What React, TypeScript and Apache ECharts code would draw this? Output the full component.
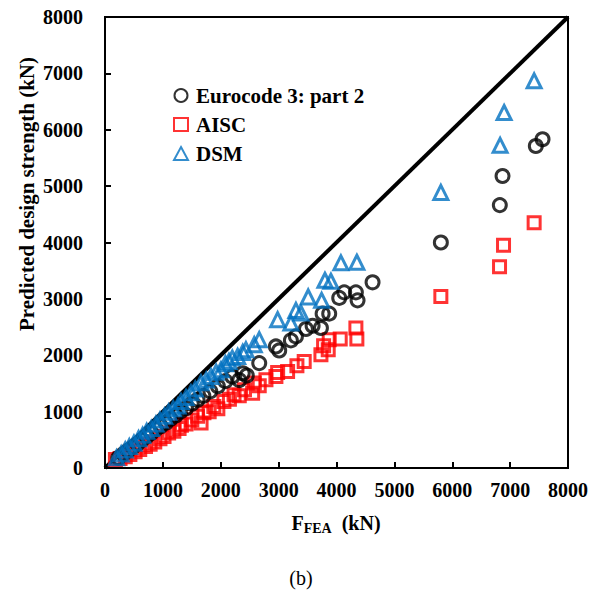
import React, { useEffect, useRef } from "react";
import * as echarts from "echarts";

// Predicted design strength vs. FEA strength (kN), pairs of [F_FEA, predicted]
const eurocode: number[][] = [
  [230, 180], [320, 250], [400, 310], [480, 370], [560, 430], [640, 500], [720, 560],
  [800, 620], [880, 690], [960, 740], [1050, 800], [1130, 870], [1220, 930], [1300, 1000],
  [1400, 1060], [1500, 1140], [1600, 1210], [1700, 1280], [1820, 1360], [1950, 1450],
  [2080, 1540], [2200, 1620], [2320, 1560], [2380, 1680], [2450, 1640], [2665, 1861],
  [2953, 2156], [3010, 2085], [3212, 2263], [3299, 2334], [3472, 2466], [3587, 2524],
  [3731, 2484], [3760, 2738], [3874, 2738], [4047, 3017], [4133, 3116], [4335, 3116],
  [4364, 2974], [4623, 3294], [5803, 4000], [6822, 4663], [6869, 5179], [7444, 5712],
  [7560, 5831],
];

const aisc: number[][] = [
  [180, 150], [260, 170], [350, 200], [430, 240], [520, 290], [600, 330], [700, 380],
  [780, 420], [860, 460], [950, 520], [1020, 560], [1100, 620], [1190, 650], [1280, 700],
  [1320, 760], [1400, 780], [1500, 850], [1600, 920], [1660, 800], [1710, 980], [1800, 1000],
  [1880, 1090], [1950, 1050], [2055, 1180], [2150, 1220], [2230, 1300], [2320, 1280],
  [2410, 1390], [2551, 1328], [2580, 1506], [2665, 1458], [2781, 1564], [2953, 1623],
  [2983, 1694], [3155, 1712], [3316, 1813], [3442, 1890], [3731, 2009], [3777, 2169],
  [3857, 2098], [3874, 2276], [4064, 2288], [4335, 2484], [4352, 2288], [5803, 3040],
  [6817, 3568], [6886, 3952], [7415, 4350],
];

const dsm: number[][] = [
  [200, 180], [280, 250], [350, 320], [420, 380], [500, 440], [580, 520], [650, 580],
  [720, 650], [800, 700], [880, 780], [950, 850], [1030, 920], [1100, 990], [1180, 1050],
  [1260, 1100], [1313, 1179], [1400, 1250], [1485, 1333], [1560, 1400], [1658, 1511],
  [1750, 1560], [1831, 1623], [1920, 1700], [2003, 1742], [2080, 1850], [2142, 1890],
  [2200, 1950], [2292, 1979], [2380, 2050], [2435, 2098], [2579, 2187], [2665, 2276],
  [2983, 2631], [3212, 2572], [3299, 2796], [3385, 2750], [3511, 3034], [3743, 2974],
  [3800, 3330], [3903, 3312], [4076, 3639], [4352, 3650], [5803, 4889], [6827, 5724],
  [6896, 6306], [7415, 6868],
];

// 1:1 reference line
const equality: number[][] = [[0, 0], [8000, 8000]];

const axisMin = 0;
const axisMax = 8000;
const axisStep = 1000;

const FONT = "'Liberation Serif', 'Times New Roman', serif";

export default function App() {
  const ref = useRef<HTMLDivElement>(null);

  useEffect(() => {
    if (!ref.current) return;
    const chart = echarts.init(ref.current, undefined, { renderer: "svg" });

    const tickLabel = {
      fontFamily: FONT,
      fontWeight: "bold" as const,
      fontSize: 20,
      color: "#000",
      formatter: (v: number) => String(v),
    };

    const marker = (color: string) => ({
      color: "rgba(255,255,255,0)",
      borderColor: color,
      borderWidth: 3,
    });

    chart.setOption({
      animation: false,
      backgroundColor: "#fff",
      grid: {
        left: 105,
        top: 17,
        width: 463,
        height: 451,
        show: true,
        borderColor: "#000",
        borderWidth: 2,
        backgroundColor: "transparent",
      },
      legend: {
        orient: "vertical",
        left: 168,
        top: 80,
        itemGap: 8,
        itemWidth: 14,
        itemHeight: 13,
        data: ["Eurocode 3: part 2", "AISC", "DSM"],
        textStyle: {
          fontFamily: FONT,
          fontWeight: "bold",
          fontSize: 21,
          color: "#000",
          padding: [0, 0, 0, 3],
        },
      },
      xAxis: {
        type: "value",
        min: axisMin,
        max: axisMax,
        interval: axisStep,
        splitLine: { show: false },
        axisLine: { show: true, onZero: false, lineStyle: { color: "#000", width: 2 } },
        axisTick: { show: true, inside: true, length: 6, lineStyle: { color: "#000", width: 2 } },
        axisLabel: { ...tickLabel, margin: 12 },
      },
      yAxis: {
        type: "value",
        min: axisMin,
        max: axisMax,
        interval: axisStep,
        splitLine: { show: false },
        axisLine: { show: true, onZero: false, lineStyle: { color: "#000", width: 2 } },
        axisTick: { show: true, inside: true, length: 6, lineStyle: { color: "#000", width: 2 } },
        axisLabel: { ...tickLabel, margin: 22 },
      },
      graphic: [
        {
          type: "text",
          x: 27,
          y: 194,
          rotation: Math.PI / 2,
          style: {
            text: "Predicted design strength (kN)",
            fontFamily: FONT,
            fontWeight: "bold",
            fontSize: 21,
            fill: "#000",
            align: "center",
            verticalAlign: "middle",
          },
        },
        {
          type: "text",
          x: 336,
          y: 523,
          style: {
            text: "{f|F}{s|FEA}{f|  (kN)}",
            rich: {
              f: { fontFamily: FONT, fontWeight: "bold", fontSize: 20, fill: "#000" },
              s: { fontFamily: FONT, fontWeight: "bold", fontSize: 14, fill: "#000", padding: [10, 0, 0, 0] },
            },
            align: "center",
            verticalAlign: "middle",
          },
        },
        {
          type: "text",
          x: 301,
          y: 578,
          style: {
            text: "(b)",
            fontFamily: FONT,
            fontSize: 20,
            fill: "#000",
            align: "center",
            verticalAlign: "middle",
          },
        },
      ],
      series: [
        {
          name: "1:1",
          type: "line",
          data: equality,
          symbol: "none",
          lineStyle: { color: "#000", width: 4 },
          z: 1,
        },
        {
          name: "AISC",
          type: "scatter",
          data: aisc,
          symbol: "rect",
          symbolSize: 12,
          itemStyle: marker("#ff0000"),
          z: 2,
        },
        {
          name: "Eurocode 3: part 2",
          type: "scatter",
          data: eurocode,
          symbol: "circle",
          symbolSize: 13,
          itemStyle: marker("#000000"),
          z: 3,
        },
        {
          name: "DSM",
          type: "scatter",
          data: dsm,
          symbol: "triangle",
          symbolSize: 14,
          itemStyle: marker("#0070c0"),
          z: 4,
        },
      ],
    });

    return () => chart.dispose();
  }, []);

  return (
    <div
      ref={ref}
      style={{ position: "fixed", left: 0, top: 0, width: 602, height: 594 }}
    />
  );
}
